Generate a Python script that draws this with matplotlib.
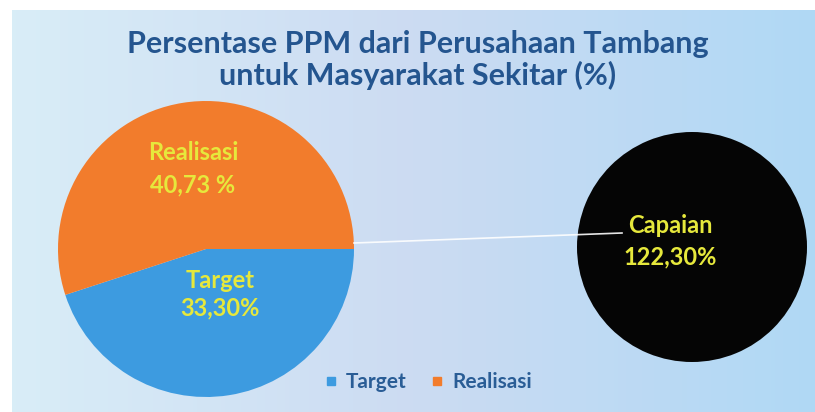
import numpy as np
import matplotlib
matplotlib.use('Agg')
import matplotlib.pyplot as plt
from matplotlib.lines import Line2D

plt.rcParams['font.family'] = ['Lato', 'DejaVu Sans']

######## DATA ##################################################################
categories = ['Target', 'Realisasi']
values = [33.30, 40.73]
valueLabels = ['33,30%', '40,73 %']
capaianLabel = 'Capaian'
capaianValue = 122.30
capaianText = '122,30%'
title = 'Persentase PPM dari Perusahaan Tambang\nuntuk Masyarakat Sekitar (%)'
colors = ['#3d9be0', '#f27c2c']
################################################################################

W, H = 815, 412
fig = plt.figure(figsize=(W / 100, H / 100), dpi=100)
ax = fig.add_axes([0, 0, 1, 1])

# soft blue background like the photo
gx = np.linspace(0, 1, 200)
gy = np.linspace(0, 1, 100)
X, Y = np.meshgrid(gx, gy)
c0 = np.array([0.85, 0.93, 0.97])
c1 = np.array([0.80, 0.86, 0.95])
c2 = np.array([0.69, 0.85, 0.96])
t = X[..., None]
bg = np.where(t < 0.5, c0 + (c1 - c0) * (t / 0.5), c1 + (c2 - c1) * ((t - 0.5) / 0.5))
ax.imshow(bg, extent=(12, W, 0, H - 10), origin='upper', aspect='auto', zorder=0)

# main pie
pieCenter = (206, H - 249)
pieR = 148
wedges, _ = ax.pie(values, colors=colors, startangle=0, counterclock=False,
                   center=pieCenter, radius=pieR, frame=True,
                   wedgeprops=dict(linewidth=0))
for w in wedges:
    w.set_zorder(2)

# capaian circle
circCenter = (692, H - 247)
circR = 115
cw, _ = ax.pie([capaianValue], colors=['#050505'], center=circCenter,
               radius=circR, frame=True, wedgeprops=dict(linewidth=0))
cw[0].set_zorder(2)

ax.set_xlim(0, W)
ax.set_ylim(0, H)
ax.set_aspect('equal')
ax.axis('off')

# connector line
ax.plot([pieCenter[0] + pieR, 622], [H - 243, H - 233], color='white',
        lw=1.2, zorder=3, alpha=0.9)

yellow = '#e6e83c'
lblPos = {'Target': (220, 280, 308), 'Realisasi': (193, 152, 185)}
for cat, vl in zip(categories, valueLabels):
    x, y1, y2 = lblPos[cat]
    ax.text(x, H - y1, cat, color=yellow, fontsize=17, fontweight='bold',
            ha='center', va='center', zorder=4)
    ax.text(x, H - y2, vl, color=yellow, fontsize=17, fontweight='bold',
            ha='center', va='center', zorder=4)

ax.text(670, H - 225, capaianLabel, color=yellow, fontsize=17,
        fontweight='bold', ha='center', va='center', zorder=4)
ax.text(670, H - 257, capaianText, color=yellow, fontsize=17,
        fontweight='bold', ha='center', va='center', zorder=4)

ax.text(418, H - 60, title, color='#24558f', fontsize=22, fontweight='bold',
        ha='center', va='center', linespacing=1.15, zorder=4)

handles = [Line2D([], [], marker='s', linestyle='none', markersize=6,
                  markerfacecolor=c, markeredgecolor=c) for c in colors]
leg = ax.legend(handles, categories, loc='center', bbox_to_anchor=(426 / W, 1 - 382 / H),
                ncol=2, frameon=False, handletextpad=0.2, columnspacing=1.0,
                handlelength=1.0, prop=dict(weight='bold', size=15))
for txt in leg.get_texts():
    txt.set_color('#2a5d96')

fig.savefig('out.png', dpi=100)
